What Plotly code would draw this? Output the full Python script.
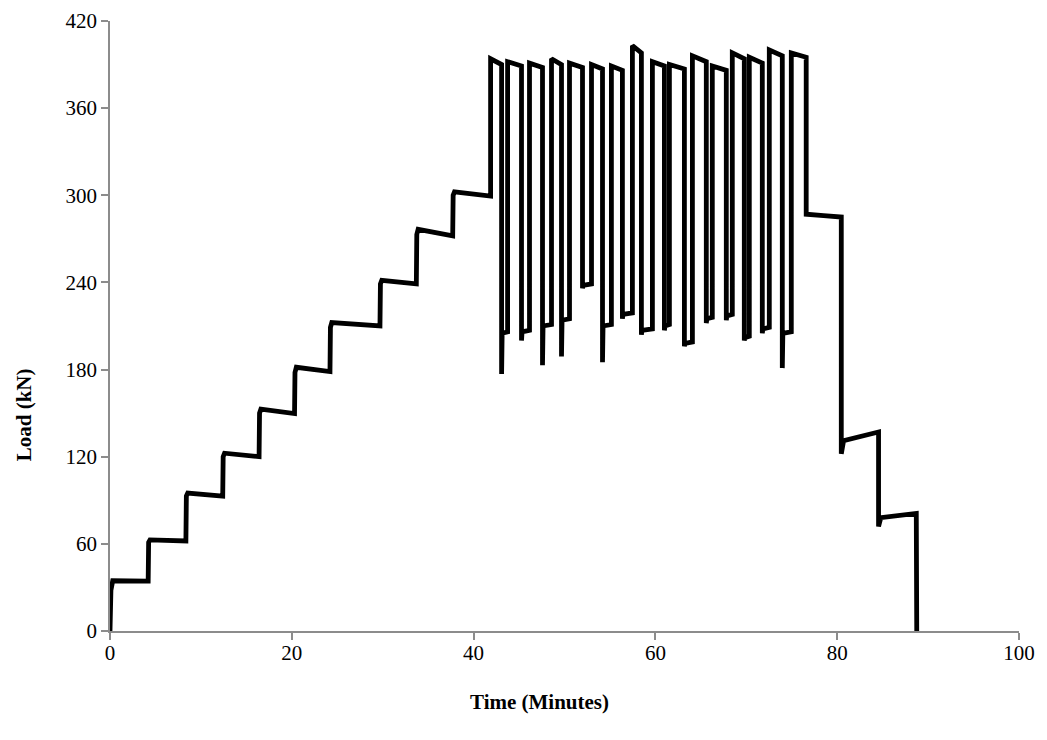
import plotly.graph_objects as go

# ---- Staircase loading (time in minutes, load in kN) ----
step_time = [0, 0.1, 0.3, 4.2, 4.25, 4.4, 8.35, 8.4, 8.55, 12.4, 12.45, 12.6,
             16.4, 16.45, 16.6, 20.3, 20.35, 20.5, 24.2, 24.25, 24.4,
             29.7, 29.75, 29.9, 33.7, 33.75, 33.9, 37.7, 37.75, 37.9, 41.87]
step_load = [0, 28, 34.6, 34.4, 61, 62.7, 62, 93, 95, 92.8, 120, 122.4, 120,
             150, 152.7, 149.7, 178, 181.6, 178.6, 209, 212.4, 210,
             239, 241.5, 239, 273, 276.6, 272, 300, 302.4, 299.4]

# ---- Cyclic loading ----
cap_on = [41.87, 43.74, 46.15, 48.57, 50.55, 52.97, 55.16, 57.47,
          59.67, 61.54, 64.07, 66.26, 68.46, 70.33, 72.53, 74.95]
cap_off = [43.08, 45.27, 47.58, 49.67, 51.98, 54.18, 56.37, 58.46,
           60.99, 63.19, 65.60, 67.80, 69.78, 71.76, 73.96, 76.59]
cap_peak = [394, 392, 391, 394, 391, 390, 389, 403,
            392, 390, 396, 389, 398, 395, 400, 398]
cap_end = [390, 389, 388, 390, 388, 387, 386, 398,
           389, 387, 392, 386, 394, 391, 396, 395]
trough_min = [177, 200, 183, 189, 236, 185, 215, 204,
              207, 196, 212, 214, 200, 205, 181]
trough_hold = [205, 206, 210, 214, 238, 210, 218, 207,
               210, 198, 215, 217, 202, 208, 205]

# ---- Unloading ----
post_time = [76.59, 78.5, 80.45, 80.45, 80.7, 84.55, 84.55, 84.8, 88.7, 88.75]
post_load = [287, 286, 285, 122, 131, 137, 72, 78, 81, 0]

x_ticks = [0, 20, 40, 60, 80, 100]
y_ticks = [0, 60, 120, 180, 240, 300, 360, 420]

# build the full series
t = list(step_time)
y = list(step_load)
for i in range(len(cap_on)):
    t += [cap_on[i], cap_off[i]]
    y += [cap_peak[i], cap_end[i]]
    if i < len(trough_min):
        t += [cap_off[i], cap_off[i] + 0.06, cap_on[i + 1]]
        y += [trough_min[i], trough_hold[i], trough_hold[i] + 1]
t += post_time
y += post_load

fig = go.Figure()
fig.add_trace(go.Scatter(x=t, y=y, mode="lines",
                         line=dict(color="black", width=4.8),
                         showlegend=False, hoverinfo="skip"))

font = "Liberation Serif, Times New Roman, serif"
axis_color = "#8c8c8c"
fs = 21
fig.update_layout(
    width=1031, height=724,
    margin=dict(l=102, r=20, t=13, b=101, autoexpand=False),
    paper_bgcolor="white", plot_bgcolor="white",
    font=dict(family=font, size=fs, color="black"),
    xaxis=dict(range=[0, 100], tickvals=x_ticks, automargin=False,
               showgrid=False, zeroline=False, showline=True,
               linecolor=axis_color, linewidth=1.5,
               ticks="outside", ticklen=7, tickcolor=axis_color, tickwidth=1.5,
               ticklabelstandoff=-5, ticklabeloverflow="allow",
               tickfont=dict(family=font, size=fs, color="black")),
    yaxis=dict(range=[0, 420], tickvals=y_ticks, automargin=False,
               showgrid=False, zeroline=False, showline=True,
               linecolor=axis_color, linewidth=1.5,
               ticks="outside", ticklen=7, tickcolor=axis_color, tickwidth=1.5,
               ticklabeloverflow="allow",
               tickfont=dict(family=font, size=fs, color="black")),
    annotations=[
        dict(text="<b>Time (Minutes)</b>", xref="x", yref="paper",
             x=47.3, y=-0.117, xanchor="center", yanchor="middle",
             showarrow=False, font=dict(family=font, size=fs, color="black")),
        dict(text="<b>Load (kN)</b>", xref="paper", yref="y",
             x=-0.095, y=149, xanchor="center", yanchor="middle",
             textangle=-90, showarrow=False,
             font=dict(family=font, size=fs, color="black")),
    ],
)

fig.write_html("out.html")
